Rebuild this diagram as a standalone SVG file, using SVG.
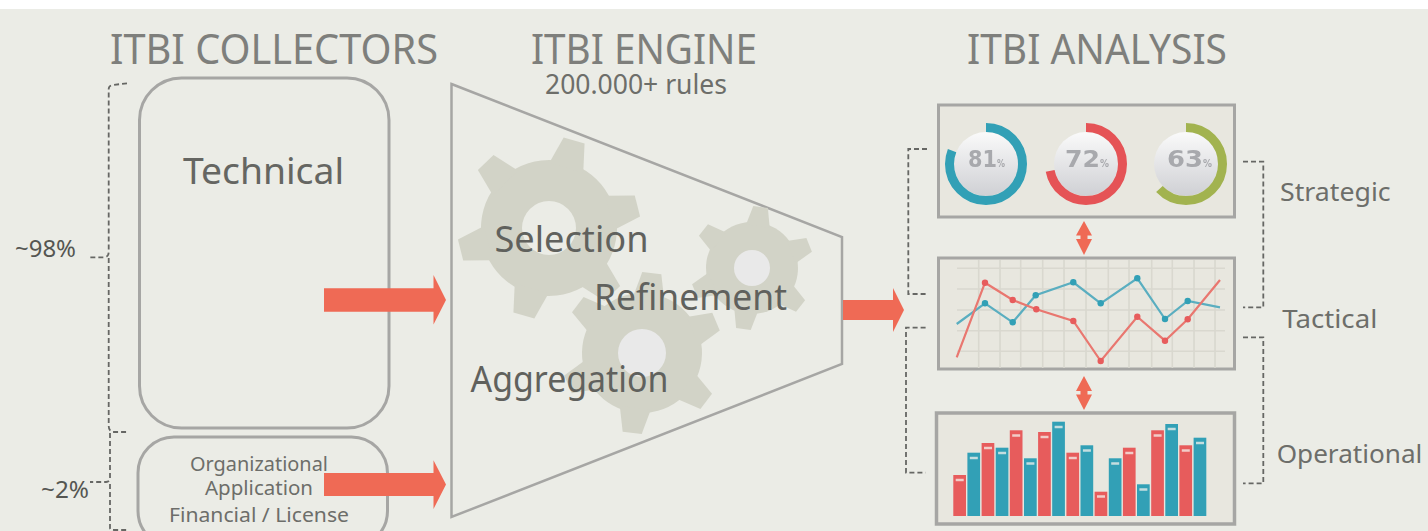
<svg xmlns="http://www.w3.org/2000/svg" xmlns:xlink="http://www.w3.org/1999/xlink" width="1428" height="531" viewBox="0 0 1428 531">
<style>
text{font-family:"Noto Sans","DejaVu Sans",sans-serif;}
.title{font-size:41px;fill:#7e7f7c;}
.big{font-size:36px;fill:#60615d;}
.side{font-size:26px;fill:#6d6e6a;}
.pct{font-size:23px;fill:#555652;}
.small{font-size:20px;fill:#6d6e6a;}
.box{fill:none;stroke:#a6a6a4;stroke-width:3;}
.panel{fill:#e8e7df;stroke:#a6a6a4;stroke-width:3;}
.dash{fill:none;stroke:#666764;stroke-width:1.8;stroke-dasharray:5 3;}
.arrow{fill:#ef6a55;}
.gear{fill:#d2d3c7;}
.ring{fill:none;stroke-width:9;}
.dial{font-family:"DejaVu Sans",sans-serif;font-weight:bold;fill:#a8a9ad;}
.grid{stroke:#d9d8cf;stroke-width:1.6;fill:none;}
.red{fill:#e75b5c;}
.blue{fill:#30a0b6;}
.mark{fill:none;stroke:#f6f1ec;stroke-width:2.6;opacity:.75;}
</style>
<defs>
<g id="gear"><circle r="100" class="gear"/>
<polygon id="tooth" class="gear" points="-26,-92 26,-92 16,-134 -16,-134"/>
<use xlink:href="#tooth" href="#tooth" transform="rotate(60)"/>
<use xlink:href="#tooth" href="#tooth" transform="rotate(120)"/>
<use xlink:href="#tooth" href="#tooth" transform="rotate(180)"/>
<use xlink:href="#tooth" href="#tooth" transform="rotate(240)"/>
<use xlink:href="#tooth" href="#tooth" transform="rotate(300)"/>
</g>
<linearGradient id="sph" x1="0" y1="0" x2="0" y2="1"><stop offset="0" stop-color="#fafafa"/><stop offset="1" stop-color="#cfd0d4"/></linearGradient>
<filter id="soft" x="-5%" y="-5%" width="110%" height="110%"><feGaussianBlur stdDeviation="0.6"/></filter>
</defs>
<rect width="1428" height="531" fill="#ffffff"/>
<rect y="9" width="1428" height="522" fill="#ebece6"/>

<text class="title" x="110" y="64" textLength="328" lengthAdjust="spacingAndGlyphs">ITBI COLLECTORS</text>
<text class="title" x="531" y="64" textLength="226" lengthAdjust="spacingAndGlyphs">ITBI ENGINE</text>
<text class="title" x="967" y="64" textLength="260" lengthAdjust="spacingAndGlyphs">ITBI ANALYSIS</text>

<g id="technical">
<rect class="box" x="139.5" y="78" width="249.5" height="350" rx="42"/>
<text x="183" y="183.5" textLength="161" lengthAdjust="spacingAndGlyphs" style="font-size:37px;fill:#656662">Technical</text>
</g>
<g id="other-collectors">
<rect class="box" x="138" y="437" width="249.5" height="110" rx="36"/>
<text class="small" x="190" y="471" textLength="138" lengthAdjust="spacingAndGlyphs">Organizational</text>
<text class="small" x="205" y="495.3" textLength="108" lengthAdjust="spacingAndGlyphs">Application</text>
<text class="small" x="169" y="521.7" textLength="180" lengthAdjust="spacingAndGlyphs">Financial / License</text>
</g>
<g id="share-98"><text class="pct" x="15" y="257" textLength="61" lengthAdjust="spacingAndGlyphs">~98%</text></g>
<g id="share-2"><text class="pct" x="41" y="497.7" textLength="48" lengthAdjust="spacingAndGlyphs">~2%</text></g>

<g id="engine">
<polygon points="451.5,84 842,237 842,364 451.5,517" fill="none" stroke="#a6a6a4" stroke-width="2.5"/>
<use xlink:href="#gear" href="#gear" transform="translate(549 228) rotate(16) scale(.68)"/>
<circle cx="549" cy="228" r="27" fill="#ebece6"/>
<use xlink:href="#gear" href="#gear" transform="translate(752 268) rotate(8) scale(.46)"/>
<circle cx="752" cy="268" r="18" fill="#e9e9e9"/>
<use xlink:href="#gear" href="#gear" transform="translate(642 353) rotate(7) scale(.6)"/>
<circle cx="642" cy="353" r="24" fill="#e9e9e9"/>
<text x="545" y="94" textLength="182" lengthAdjust="spacingAndGlyphs" style="font-size:27px;fill:#6d6e6a">200.000+ rules</text>
<text class="big" x="494.5" y="252" textLength="154" lengthAdjust="spacingAndGlyphs">Selection</text>
<text class="big" x="594" y="310" textLength="193" lengthAdjust="spacingAndGlyphs">Refinement</text>
<text class="big" x="470.5" y="392" textLength="198" lengthAdjust="spacingAndGlyphs">Aggregation</text>
</g>

<g id="panel-strategic">
<rect class="panel" x="938.5" y="105" width="296" height="112"/>
<g filter="url(#soft)">
<circle cx="986" cy="164" r="32" fill="url(#sph)"/><circle cx="1086" cy="164" r="32" fill="url(#sph)"/><circle cx="1186" cy="164" r="32" fill="url(#sph)"/>
<circle class="ring" cx="986" cy="164" r="36.5" stroke="#30a0b6" pathLength="100" stroke-dasharray="81 100" transform="rotate(-90 986 164)"/>
<circle class="ring" cx="1086" cy="164" r="36.5" stroke="#e55356" pathLength="100" stroke-dasharray="72 100" transform="rotate(-90 1086 164)"/>
<circle class="ring" cx="1186" cy="164" r="36.5" stroke="#a2b350" pathLength="100" stroke-dasharray="63 100" transform="rotate(-90 1186 164)"/>
<text class="dial" x="968" y="167" font-size="23" textLength="29" lengthAdjust="spacingAndGlyphs">81</text><text class="dial" x="997" y="167" font-size="11" textLength="8" lengthAdjust="spacingAndGlyphs">%</text>
<text class="dial" x="1065" y="167" font-size="23" textLength="35" lengthAdjust="spacingAndGlyphs">72</text><text class="dial" x="1100" y="167" font-size="11" textLength="9" lengthAdjust="spacingAndGlyphs">%</text>
<text class="dial" x="1167" y="167" font-size="23" textLength="36" lengthAdjust="spacingAndGlyphs">63</text><text class="dial" x="1203" y="167" font-size="11" textLength="9" lengthAdjust="spacingAndGlyphs">%</text>
</g>
</g>

<g id="panel-tactical">
<rect class="panel" x="938.5" y="258" width="296" height="111"/>
<g filter="url(#soft)">
<path class="grid" d="M957 268.3H1225M957 289H1225M957 310H1225M957 330.7H1225M957 351.3H1225M978.7 260V368M1000 260V368M1020.7 260V368M1042.7 260V368M1064 260V368M1086 260V368M1108.3 260V368M1129 260V368M1151.7 260V368M1172.3 260V368M1194 260V368M1215 260V368"/>
<polyline fill="none" stroke="#5aaec0" stroke-width="2.2" points="956.7,324 985,303.3 1012.7,322.3 1035.7,295.3 1073.3,282.3 1100.7,303.3 1137.3,278.3 1165,319 1187.7,301 1220,307.3"/>
<polyline fill="none" stroke="#e9776f" stroke-width="2.2" points="956.7,357.3 985,282.7 1012.7,300 1036.3,309.3 1073.3,321 1100.7,361 1137.3,316.7 1165,340.7 1187.7,319.3 1220,280"/>
<g class="blue"><circle cx="985" cy="303.3" r="3.2"/><circle cx="1012.7" cy="322.3" r="3.2"/><circle cx="1035.7" cy="295.3" r="3.2"/><circle cx="1073.3" cy="282.3" r="3.2"/><circle cx="1100.7" cy="303.3" r="3.2"/><circle cx="1137.3" cy="278.3" r="3.2"/><circle cx="1165" cy="319" r="3.2"/><circle cx="1187.7" cy="301" r="3.2"/></g>
<g class="red"><circle cx="985" cy="282.7" r="3.2"/><circle cx="1012.7" cy="300" r="3.2"/><circle cx="1036.3" cy="309.3" r="3.2"/><circle cx="1073.3" cy="321" r="3.2"/><circle cx="1100.7" cy="361" r="3.2"/><circle cx="1137.3" cy="316.7" r="3.2"/><circle cx="1165" cy="340.7" r="3.2"/><circle cx="1187.7" cy="319.3" r="3.2"/></g>
</g>
</g>

<g id="panel-operational">
<rect x="936.5" y="413" width="298" height="111" fill="#e8e7df" stroke="#a6a6a4" stroke-width="3.5"/>
<g filter="url(#soft)">
<g class="red">
<rect x="953.3" y="475" width="12.7" height="41"/><rect x="981.6" y="443" width="12.7" height="73"/><rect x="1009.8" y="430.3" width="12.7" height="85.7"/><rect x="1038.1" y="432" width="12.7" height="84"/><rect x="1066.4" y="452.7" width="12.7" height="63.3"/><rect x="1094.6" y="491.7" width="12.7" height="24.3"/><rect x="1122.9" y="447.7" width="12.7" height="68.3"/><rect x="1151.2" y="430.3" width="12.7" height="85.7"/><rect x="1179.4" y="445.3" width="12.7" height="70.7"/>
</g>
<g class="blue">
<rect x="967.4" y="452.7" width="12.7" height="63.3"/><rect x="995.7" y="447.7" width="12.7" height="68.3"/><rect x="1024" y="458.3" width="12.7" height="57.7"/><rect x="1052.2" y="421.7" width="12.7" height="94.3"/><rect x="1080.5" y="445.3" width="12.7" height="70.7"/><rect x="1108.8" y="458.3" width="12.7" height="57.7"/><rect x="1137" y="484.3" width="12.7" height="31.7"/><rect x="1165.3" y="424" width="12.7" height="92"/><rect x="1193.6" y="437.7" width="12.7" height="78.3"/>
</g>
<path class="mark" d="M955.7 480h8M969.8 458h8M984 448h8M998.1 453h8M1012.2 435.5h8M1026.4 463.5h8M1040.5 437h8M1054.6 427h8M1068.8 458h8M1082.9 450.5h8M1097 496.5h8M1111.2 463.5h8M1125.3 453h8M1139.4 489.5h8M1153.6 435.5h8M1167.7 429h8M1181.8 450.5h8M1196 443h8"/>
</g>
</g>

<g id="label-strategic"><text class="side" x="1280" y="200.7" textLength="110.7" lengthAdjust="spacingAndGlyphs">Strategic</text></g>
<g id="label-tactical"><text class="side" x="1282.3" y="327.7" textLength="95" lengthAdjust="spacingAndGlyphs">Tactical</text></g>
<g id="label-operational"><text class="side" x="1276.7" y="462.7" textLength="145.6" lengthAdjust="spacingAndGlyphs">Operational</text></g>

<g id="connectors">
<path class="dash" d="M127 83.3L113 85Q108.7 85.5 108.7 89V252Q108.7 257 104 257.3H90M108.7 258V426Q108.7 431 113 432H128"/>
<path class="dash" d="M110 433V478Q110 481.5 106 482H90M110 484V528Q110 530 114 530H128"/>
<path class="dash" d="M927 149H908.3V294H927"/>
<path class="dash" d="M925.6 327.7H906V472.7H925.6"/>
<path class="dash" d="M1243 161.7H1263.3V307.3H1243"/>
<path class="dash" d="M1243 337.3H1263.3V483.3H1243"/>
<polygon class="arrow" points="324,288.3 433.5,288.3 433.5,275 446,300 433.5,324.5 433.5,311.7 324,311.7"/>
<polygon class="arrow" points="324,473 433.5,473 433.5,460.3 446,484.5 433.5,509 433.5,496 324,496"/>
<polygon class="arrow" points="843,300 893,300 893,288 904,310 893,332 893,320 843,320"/>
<polygon class="arrow" points="1084,221 1092,235.5 1087.5,235.5 1087.5,239 1092,239 1084,255 1076,239 1080.5,239 1080.5,235.5 1076,235.5"/>
<polygon class="arrow" points="1084,376 1092,391 1087.5,391 1087.5,394.5 1092,394.5 1084,410 1076,394.5 1080.5,394.5 1080.5,391 1076,391"/>
</g>
</svg>
